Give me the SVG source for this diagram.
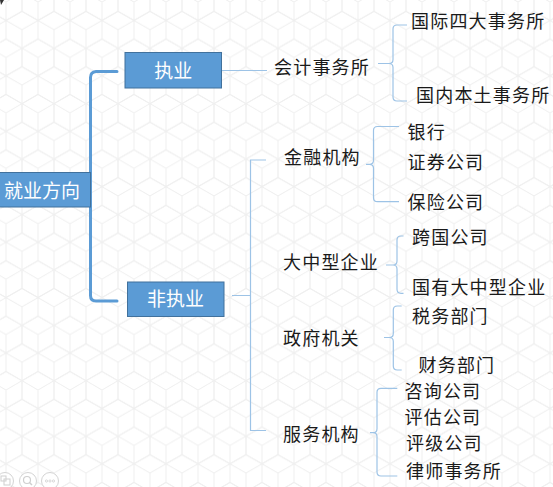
<svg xmlns="http://www.w3.org/2000/svg" width="553" height="487" viewBox="0 0 553 487">
  <defs>
    <pattern id="cubes" patternUnits="userSpaceOnUse" x="6" y="2" width="32" height="55.426">
      <g fill="none" stroke="#efefef" stroke-width="1">
        <path d="M0,-18.475 L16,-9.238 L16,9.238 L0,18.475 L-16,9.238 L-16,-9.238 Z M-16,-9.238 L0,0 L16,-9.238 M0,0 L0,18.475"/>
        <path d="M32,-18.475 L48,-9.238 L48,9.238 L32,18.475 L16,9.238 L16,-9.238 Z M16,-9.238 L32,0 L48,-9.238 M32,0 L32,18.475"/>
        <path d="M16,9.238 L32,18.475 L32,36.951 L16,46.189 L0,36.951 L0,18.475 Z M0,18.475 L16,27.713 L32,18.475 M16,27.713 L16,46.189"/>
        <path d="M0,36.951 L16,46.189 L16,64.664 L0,73.902 L-16,64.664 L-16,46.189 Z M-16,46.189 L0,55.426 L16,46.189 M0,55.426 L0,73.902"/>
        <path d="M32,36.951 L48,46.189 L48,64.664 L32,73.902 L16,64.664 L16,46.189 Z M16,46.189 L32,55.426 L48,46.189 M32,55.426 L32,73.902"/>
      </g>
    </pattern>
  </defs>
  <style>
    .box { fill: #5b9bd5; stroke: #41719c; stroke-width: 1; }
    .boxtext { font-family: "Noto Sans CJK SC", "Noto Sans", sans-serif; font-size: 19px; fill: #ffffff; text-anchor: middle; }
    .label { font-family: "Noto Sans CJK SC", "Noto Sans", sans-serif; font-size: 18px; letter-spacing: 1.2px; fill: #1a1a1a; }
    .main { fill: none; stroke: #5b9bd5; stroke-width: 3; stroke-linecap: round; }
    .thin { fill: none; stroke: #9dc3e6; stroke-width: 1.2; }
    .ui { fill: #ffffff; stroke: #d4d4d4; stroke-width: 1; }
  </style>

  <rect width="553" height="487" fill="#ffffff"/>
  <rect width="553" height="487" fill="url(#cubes)"/>
  <path d="M0,0 L4,0 L1,5 Z" fill="#333333"/>

  <g id="connectors">
    <path class="main" d="M117,71.5 H96 Q90.5,72 90.5,77.5 V295.5 Q90.5,301 96,301 H117"/>
    <path class="thin" d="M222,70.5 H267"/>
    <path class="thin" d="M378,63.5 H389 Q393,63.5 393,59.5 V29 Q393,25 397,25 H407 M389,63.5 Q393,63.5 393,67.5 V97 Q393,101 397,101 H407"/>
    <path class="thin" d="M232,295.5 H250.5 M266,160 H250.5 V430.5 H266"/>
    <path class="thin" d="M366,164.3 H369.5 Q373.5,164.3 373.5,160.3 V130.5 Q373.5,126.5 377.5,126.5 H399 M369.5,164.3 Q373.5,164.3 373.5,168.3 V197.7 Q373.5,201.7 377.5,201.7 H399"/>
    <path class="thin" d="M386,265 H393 Q397,265 397,261 V240 Q397,236 401,236 H403.5 M393,265 Q397,265 397,269 V289.3 Q397,293.3 401,293.3 H403.5"/>
    <path class="thin" d="M384,337.5 H389.3 Q393.3,337.5 393.3,333.5 V310 Q393.3,306 397.3,306 H401.7 M389.3,337.5 Q393.3,337.5 393.3,341.5 V366 Q393.3,370 397.3,370 H401.7"/>
    <path class="thin" d="M370,432.7 H373 Q377,432.7 377,428.7 V392.3 Q377,388.3 381,388.3 H397.3 M373,432.7 Q377,432.7 377,436.7 V472 Q377,476 381,476 H397.3"/>
  </g>

  <g id="root">
    <rect class="box" x="-1" y="172.5" width="91.5" height="34.5"/>
    <text class="boxtext" x="42" y="197.7">就业方向</text>
  </g>
  <g id="zhiye">
    <rect class="box" x="125" y="52.5" width="96.5" height="35.5"/>
    <text class="boxtext" x="173.3" y="77.7">执业</text>
  </g>
  <g id="feizhiye">
    <rect class="box" x="127.5" y="282" width="96.5" height="34.5"/>
    <text class="boxtext" x="175.5" y="306.4">非执业</text>
  </g>

  <g id="kuaiji"><text class="label" x="274" y="74.3">会计事务所</text></g>
  <g id="guoji"><text class="label" x="411" y="28">国际四大事务所</text></g>
  <g id="guonei"><text class="label" x="416" y="101.5">国内本土事务所</text></g>

  <g id="jinrong"><text class="label" x="284" y="164.3">金融机构</text></g>
  <g id="yinhang"><text class="label" x="407.5" y="138.5">银行</text></g>
  <g id="zhengquan"><text class="label" x="407.5" y="168.5">证券公司</text></g>
  <g id="baoxian"><text class="label" x="407.5" y="208.5">保险公司</text></g>

  <g id="dazhong"><text class="label" x="283" y="269.3">大中型企业</text></g>
  <g id="kuaguo"><text class="label" x="412" y="244">跨国公司</text></g>
  <g id="guoyou"><text class="label" x="412" y="294.3">国有大中型企业</text></g>

  <g id="zhengfu"><text class="label" x="283" y="345">政府机关</text></g>
  <g id="shuiwu"><text class="label" x="412" y="323">税务部门</text></g>
  <g id="caiwu"><text class="label" x="418.5" y="372">财务部门</text></g>

  <g id="fuwu"><text class="label" x="283" y="440.5">服务机构</text></g>
  <g id="zixun"><text class="label" x="404.5" y="397.5">咨询公司</text></g>
  <g id="pinggu"><text class="label" x="404.5" y="424.3">评估公司</text></g>
  <g id="pingji"><text class="label" x="406" y="449.5">评级公司</text></g>
  <g id="lvshi"><text class="label" x="406" y="477.8">律师事务所</text></g>

  <g id="toolbar">
    <circle class="ui" cx="5" cy="481" r="8.5"/>
    <rect x="1" y="476" width="5" height="5" fill="none" stroke="#cfcfcf" stroke-width="1"/>
    <rect x="4" y="479" width="6" height="6" fill="none" stroke="#cfcfcf" stroke-width="1"/>
    <circle class="ui" cx="28" cy="481" r="8.5"/>
    <circle cx="27" cy="480" r="3.5" fill="none" stroke="#cfcfcf" stroke-width="1.2"/>
    <path d="M29.5,482.5 L32,485" stroke="#cfcfcf" stroke-width="1.5"/>
    <circle class="ui" cx="50" cy="481" r="8.5"/>
    <circle cx="46.5" cy="481" r="1.1" fill="none" stroke="#cfcfcf" stroke-width="0.8"/>
    <circle cx="50" cy="481" r="1.1" fill="none" stroke="#cfcfcf" stroke-width="0.8"/>
    <circle cx="53.5" cy="481" r="1.1" fill="none" stroke="#cfcfcf" stroke-width="0.8"/>
  </g>
</svg>
